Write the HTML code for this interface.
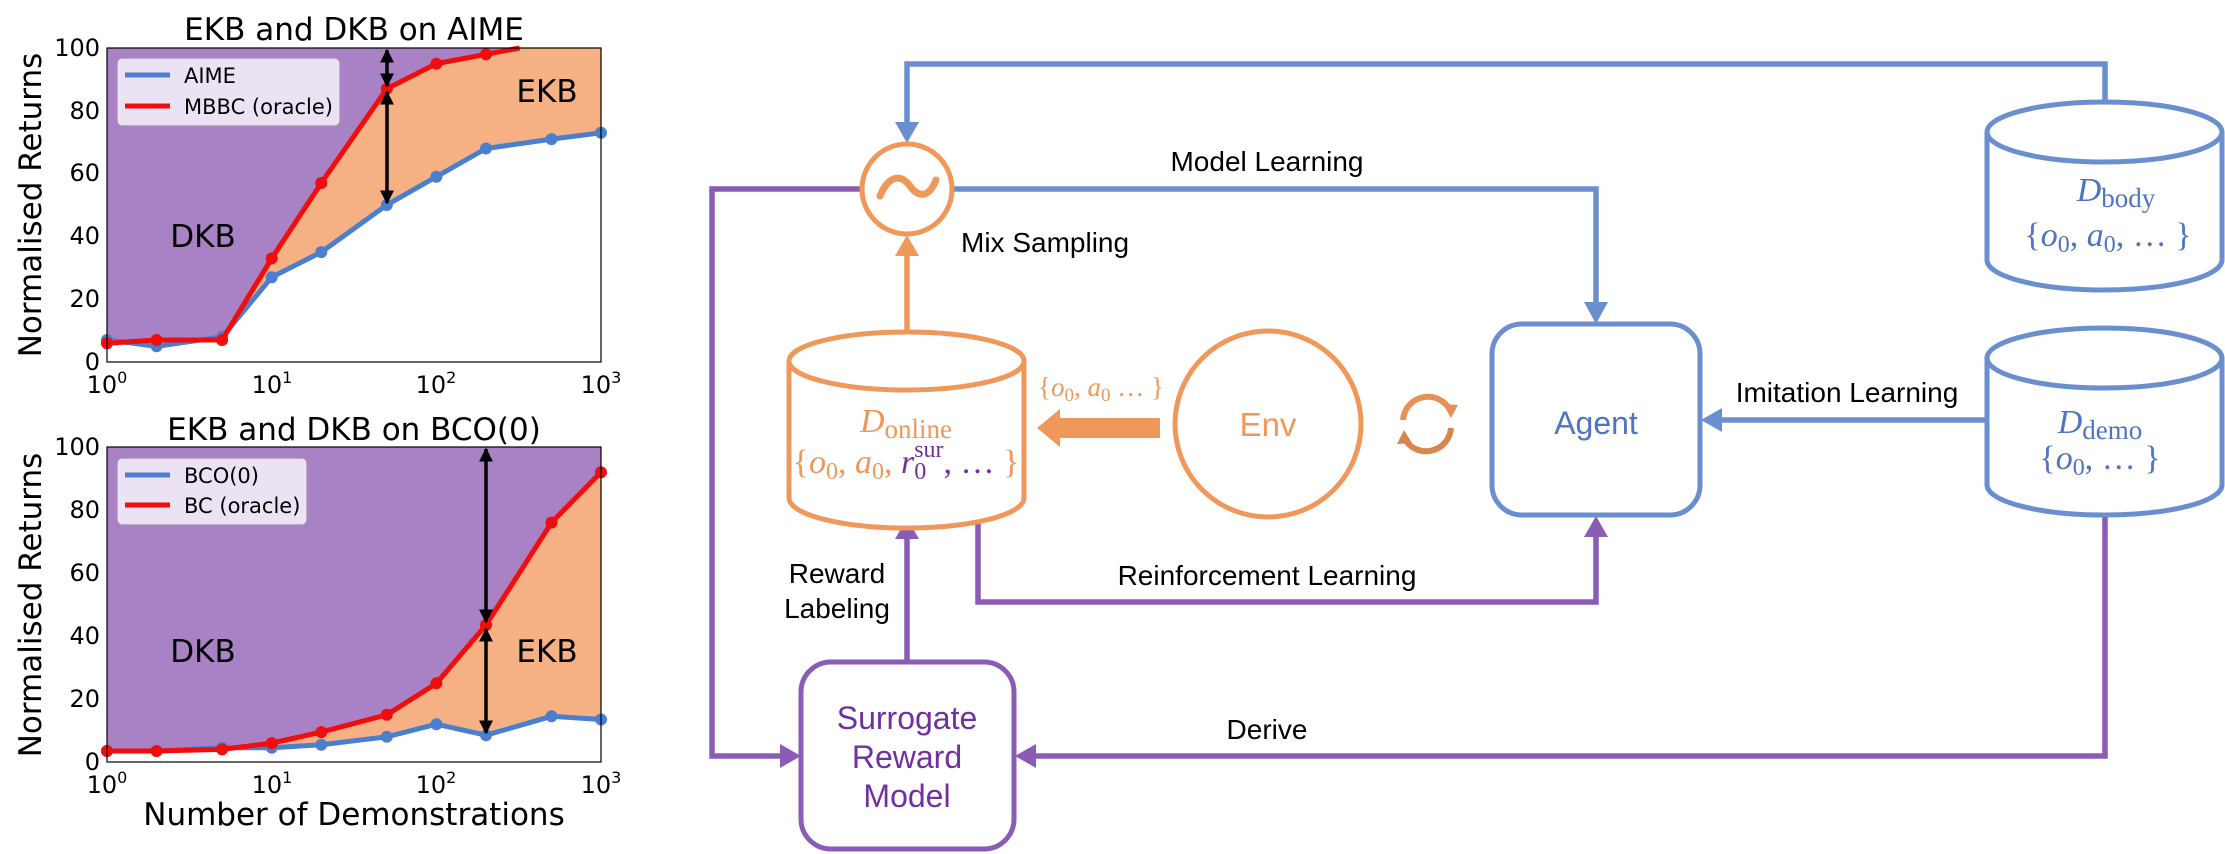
<!DOCTYPE html>
<html><head><meta charset="utf-8"><style>
html,body{margin:0;padding:0;background:#fff;}
svg{display:block;}
.t{font-family:"DejaVu Sans","Liberation Sans",sans-serif;}
.l{font-family:"Liberation Sans",sans-serif;}
.m{font-family:"Liberation Serif","DejaVu Serif",serif;}
</style></head><body>
<svg width="2225" height="854" viewBox="0 0 2225 854" xmlns="http://www.w3.org/2000/svg">
<defs>
<marker id="ah" viewBox="0 0 10 10" refX="9" refY="5" markerWidth="4" markerHeight="4" orient="auto-start-reverse"><path d="M0,0 L10,5 L0,10 z" fill="#000"/></marker>
</defs>
<!-- ===== Top chart ===== -->
<rect x="107" y="48" width="494" height="314" fill="#a882c5"/>
<polygon fill="#f5b183" points="107,343.2 156.6,340 222.1,340 271.7,258.4 321.3,183 386.8,88.8 436.4,63.7 486,54.3 519.6,48 601,48 601,132.8 551.5,139.1 486,148.5 436.4,176.7 386.8,205 321.3,252.1 271.7,277.2 222.1,336.9 156.6,346.3 107,340"/>
<polygon fill="#fff" points="107,340 156.6,346.3 222.1,336.9 271.7,277.2 321.3,252.1 386.8,205 436.4,176.7 486,148.5 551.5,139.1 601,132.8 601,362 107,362"/>
<polyline fill="none" stroke="#4a7fcf" stroke-width="5" points="107,340 156.6,346.3 222.1,336.9 271.7,277.2 321.3,252.1 386.8,205 436.4,176.7 486,148.5 551.5,139.1 601,132.8"/>
<g fill="#4a7fcf"><circle cx="107" cy="340" r="6"/><circle cx="156.6" cy="346.3" r="6"/><circle cx="222.1" cy="336.9" r="6"/><circle cx="271.7" cy="277.2" r="6"/><circle cx="321.3" cy="252.1" r="6"/><circle cx="386.8" cy="205" r="6"/><circle cx="436.4" cy="176.7" r="6"/><circle cx="486" cy="148.5" r="6"/><circle cx="551.5" cy="139.1" r="6"/><circle cx="601" cy="132.8" r="6"/></g>
<polyline fill="none" stroke="#f20d0d" stroke-width="5" points="107,343.2 156.6,340 222.1,340 271.7,258.4 321.3,183 386.8,88.8 436.4,63.7 486,54.3 519.6,48"/>
<g fill="#f20d0d"><circle cx="107" cy="343.2" r="6"/><circle cx="156.6" cy="340" r="6"/><circle cx="222.1" cy="340" r="6"/><circle cx="271.7" cy="258.4" r="6"/><circle cx="321.3" cy="183" r="6"/><circle cx="386.8" cy="88.8" r="6"/><circle cx="436.4" cy="63.7" r="6"/><circle cx="486" cy="54.3" r="6"/></g>
<line x1="387" y1="50" x2="387" y2="86" stroke="#000" stroke-width="3.5" marker-start="url(#ah)" marker-end="url(#ah)"/>
<line x1="387" y1="92" x2="387" y2="203" stroke="#000" stroke-width="3.5" marker-start="url(#ah)" marker-end="url(#ah)"/>
<rect x="107" y="48" width="494" height="314" fill="none" stroke="#000" stroke-width="1.2"/>
<rect x="118" y="59" width="221" height="66" rx="4" fill="#f2edf7" fill-opacity="0.9" stroke="#ddd"/>
<line x1="125" y1="75" x2="170" y2="75" stroke="#4a7fcf" stroke-width="5"/>
<line x1="125" y1="106" x2="170" y2="106" stroke="#f20d0d" stroke-width="5"/>
<text class="t" x="184" y="83" font-size="21">AIME</text>
<text class="t" x="184" y="114" font-size="21">MBBC (oracle)</text>
<text class="t" x="203" y="247" font-size="31" text-anchor="middle">DKB</text>
<text class="t" x="547" y="102" font-size="31" text-anchor="middle">EKB</text>
<text class="t" x="354" y="40" font-size="31" text-anchor="middle">EKB and DKB on AIME</text>
<g class="t" font-size="24" text-anchor="end">
<text x="100" y="370">0</text><text x="100" y="307">20</text><text x="100" y="244">40</text><text x="100" y="181">60</text><text x="100" y="119">80</text><text x="100" y="56">100</text>
</g>
<g class="t" font-size="24" text-anchor="middle">
<text x="107" y="393">10<tspan font-size="16" dy="-10">0</tspan></text><text x="272" y="393">10<tspan font-size="16" dy="-10">1</tspan></text><text x="436" y="393">10<tspan font-size="16" dy="-10">2</tspan></text><text x="601" y="393">10<tspan font-size="16" dy="-10">3</tspan></text>
</g>
<text class="t" font-size="31" text-anchor="middle" transform="translate(41,205) rotate(-90)">Normalised Returns</text>

<!-- ===== Bottom chart ===== -->
<rect x="107" y="447" width="494" height="315" fill="#a882c5"/>
<polygon fill="#f5b183" points="107,751 156.6,751 222.1,749.4 271.7,743.1 321.3,732.1 386.8,714.8 436.4,683.3 486,625 551.5,522.6 601,472.2 601,719.5 551.5,716.3 486,735.2 436.4,724.2 386.8,736.8 321.3,744.7 271.7,747.8 222.1,747.8 156.6,751"/>
<polygon fill="#fff" points="107,751 156.6,751 222.1,747.8 271.7,747.8 321.3,744.7 386.8,736.8 436.4,724.2 486,735.2 551.5,716.3 601,719.5 601,762 107,762"/>
<polyline fill="none" stroke="#4a7fcf" stroke-width="5" points="107,751 156.6,751 222.1,747.8 271.7,747.8 321.3,744.7 386.8,736.8 436.4,724.2 486,735.2 551.5,716.3 601,719.5"/>
<g fill="#4a7fcf"><circle cx="107" cy="751" r="6"/><circle cx="156.6" cy="751" r="6"/><circle cx="222.1" cy="747.8" r="6"/><circle cx="271.7" cy="747.8" r="6"/><circle cx="321.3" cy="744.7" r="6"/><circle cx="386.8" cy="736.8" r="6"/><circle cx="436.4" cy="724.2" r="6"/><circle cx="486" cy="735.2" r="6"/><circle cx="551.5" cy="716.3" r="6"/><circle cx="601" cy="719.5" r="6"/></g>
<polyline fill="none" stroke="#f20d0d" stroke-width="5" points="107,751 156.6,751 222.1,749.4 271.7,743.1 321.3,732.1 386.8,714.8 436.4,683.3 486,625 551.5,522.6 601,472.2"/>
<g fill="#f20d0d"><circle cx="107" cy="751" r="6"/><circle cx="156.6" cy="751" r="6"/><circle cx="222.1" cy="749.4" r="6"/><circle cx="271.7" cy="743.1" r="6"/><circle cx="321.3" cy="732.1" r="6"/><circle cx="386.8" cy="714.8" r="6"/><circle cx="436.4" cy="683.3" r="6"/><circle cx="486" cy="625" r="6"/><circle cx="551.5" cy="522.6" r="6"/><circle cx="601" cy="472.2" r="6"/></g>
<line x1="486" y1="449" x2="486" y2="622" stroke="#000" stroke-width="3.5" marker-start="url(#ah)" marker-end="url(#ah)"/>
<line x1="486" y1="629" x2="486" y2="733" stroke="#000" stroke-width="3.5" marker-start="url(#ah)" marker-end="url(#ah)"/>
<rect x="107" y="447" width="494" height="315" fill="none" stroke="#000" stroke-width="1.2"/>
<rect x="118" y="459" width="188" height="65" rx="4" fill="#f2edf7" fill-opacity="0.9" stroke="#ddd"/>
<line x1="125" y1="475" x2="170" y2="475" stroke="#4a7fcf" stroke-width="5"/>
<line x1="125" y1="505" x2="170" y2="505" stroke="#f20d0d" stroke-width="5"/>
<text class="t" x="184" y="483" font-size="21">BCO(0)</text>
<text class="t" x="184" y="513" font-size="21">BC (oracle)</text>
<text class="t" x="203" y="662" font-size="31" text-anchor="middle">DKB</text>
<text class="t" x="547" y="662" font-size="31" text-anchor="middle">EKB</text>
<text class="t" x="354" y="440" font-size="31" text-anchor="middle">EKB and DKB on BCO(0)</text>
<g class="t" font-size="24" text-anchor="end">
<text x="100" y="770">0</text><text x="100" y="707">20</text><text x="100" y="644">40</text><text x="100" y="581">60</text><text x="100" y="518">80</text><text x="100" y="455">100</text>
</g>
<g class="t" font-size="24" text-anchor="middle">
<text x="107" y="793">10<tspan font-size="16" dy="-10">0</tspan></text><text x="272" y="793">10<tspan font-size="16" dy="-10">1</tspan></text><text x="436" y="793">10<tspan font-size="16" dy="-10">2</tspan></text><text x="601" y="793">10<tspan font-size="16" dy="-10">3</tspan></text>
</g>
<text class="t" font-size="31" text-anchor="middle" transform="translate(41,605) rotate(-90)">Normalised Returns</text>
<text class="t" x="354" y="825" font-size="31" text-anchor="middle">Number of Demonstrations</text>

<!-- ===== Diagram ===== -->
<g fill="none" stroke-width="5.5">
<polyline stroke="#6a8fcf" points="2105,101 2105,64 907,64 907,124"/>
<polygon fill="#6a8fcf" stroke="none" points="895,122 919,122 907,143"/>
<polyline stroke="#6a8fcf" points="952,189 1596,189 1596,305"/>
<polygon fill="#6a8fcf" stroke="none" points="1584,302 1608,302 1596,324"/>
<polyline stroke="#6a8fcf" points="1987,420 1720,420"/>
<polygon fill="#6a8fcf" stroke="none" points="1722,408 1722,432 1701,420"/>
<polyline stroke="#8a5cb5" points="862,189 712,189 712,756 782,756"/>
<polygon fill="#8a5cb5" stroke="none" points="780,744 780,768 801,756"/>
<polyline stroke="#8a5cb5" points="2105,516 2105,756 1034,756"/>
<polygon fill="#8a5cb5" stroke="none" points="1036,744 1036,768 1015,756"/>
<polyline stroke="#8a5cb5" points="978,515 978,602 1596,602 1596,535"/>
<polygon fill="#8a5cb5" stroke="none" points="1584,537 1608,537 1596,516"/>
<polyline stroke="#8a5cb5" points="907,662 907,536"/>
<polygon fill="#8a5cb5" stroke="none" points="895,539 919,539 907,518"/>
<polyline stroke="#f0975a" points="907,331 907,252"/>
<polygon fill="#f0975a" stroke="none" points="895,256 919,256 907,235"/>
</g>
<circle cx="907" cy="189" r="45" fill="#fff" stroke="#f0975a" stroke-width="5"/>
<path d="M880,196 C890,172 903,176 910,186 C917,196 928,200 936,180" fill="none" stroke="#f0975a" stroke-width="7" stroke-linecap="round"/>
<path d="M789,361 L789,498 A117.5,30 0 0 0 1024,498 L1024,361" fill="#fff" stroke="#f0975a" stroke-width="5"/>
<ellipse cx="906.5" cy="361" rx="117.5" ry="29" fill="#fff" stroke="#f0975a" stroke-width="5"/>
<text class="m" x="906" y="432" font-size="34" fill="#f0975a" text-anchor="middle"><tspan font-style="italic">D</tspan><tspan font-size="27" dy="6">online</tspan></text>
<text class="m" x="906" y="473" font-size="34" fill="#f0975a" text-anchor="middle">{<tspan font-style="italic">o</tspan><tspan font-size="24" dy="6">0</tspan><tspan dy="-6">, </tspan><tspan font-style="italic">a</tspan><tspan font-size="24" dy="6">0</tspan><tspan dy="-6">, </tspan><tspan font-style="italic" fill="#7030a0">r</tspan><tspan font-size="24" dy="6" fill="#7030a0">0</tspan><tspan font-size="24" dx="-12" dy="-22" fill="#7030a0">sur</tspan><tspan dy="16" fill="#7030a0">, … </tspan>}</text>
<rect x="1055" y="418" width="105" height="20" fill="#f0975a"/>
<polygon points="1037,428 1060,409 1060,447" fill="#f0975a"/>
<text class="m" x="1101" y="396" font-size="27" fill="#f0975a" text-anchor="middle">{<tspan font-style="italic">o</tspan><tspan font-size="19" dy="5">0</tspan><tspan dy="-5">, </tspan><tspan font-style="italic">a</tspan><tspan font-size="19" dy="5">0</tspan><tspan dy="-5"> … }</tspan></text>
<circle cx="1268" cy="424" r="93" fill="#fff" stroke="#f0975a" stroke-width="5"/>
<text class="l" x="1268" y="436" font-size="33" fill="#f0975a" text-anchor="middle">Env</text>
<path d="M1403,420 A25,25 0 0 1 1450,410" fill="none" stroke="#e59158" stroke-width="6"/>
<polygon points="1443,404 1458,405 1451,418" fill="#e59158"/>
<path d="M1451,428 A25,25 0 0 1 1404,438" fill="none" stroke="#d5874f" stroke-width="6"/>
<polygon points="1397,444 1404,430 1412,443" fill="#d5874f"/>
<rect x="1492" y="324" width="208" height="191" rx="30" fill="#fff" stroke="#6a8fcf" stroke-width="5"/>
<text class="l" x="1596" y="434" font-size="32" fill="#4f74c2" text-anchor="middle">Agent</text>
<path d="M1987,132 L1987,260 A117.5,30 0 0 0 2222,260 L2222,132" fill="#fff" stroke="#6a8fcf" stroke-width="5"/>
<ellipse cx="2104.5" cy="132" rx="117.5" ry="30" fill="#fff" stroke="#6a8fcf" stroke-width="5"/>
<text class="m" x="2116" y="201" font-size="34" fill="#4f74c2" text-anchor="middle"><tspan font-style="italic">D</tspan><tspan font-size="27" dy="6">body</tspan></text>
<text class="m" x="2108" y="246" font-size="34" fill="#4f74c2" text-anchor="middle">{<tspan font-style="italic">o</tspan><tspan font-size="24" dy="6">0</tspan><tspan dy="-6">, </tspan><tspan font-style="italic">a</tspan><tspan font-size="24" dy="6">0</tspan><tspan dy="-6">, … }</tspan></text>
<path d="M1987,358 L1987,485 A117.5,30 0 0 0 2222,485 L2222,358" fill="#fff" stroke="#6a8fcf" stroke-width="5"/>
<ellipse cx="2104.5" cy="358" rx="117.5" ry="30" fill="#fff" stroke="#6a8fcf" stroke-width="5"/>
<text class="m" x="2100" y="433" font-size="34" fill="#4f74c2" text-anchor="middle"><tspan font-style="italic">D</tspan><tspan font-size="27" dy="6">demo</tspan></text>
<text class="m" x="2100" y="469" font-size="34" fill="#4f74c2" text-anchor="middle">{<tspan font-style="italic">o</tspan><tspan font-size="24" dy="6">0</tspan><tspan dy="-6">, … }</tspan></text>
<rect x="801" y="662" width="213" height="187" rx="30" fill="#fff" stroke="#8a5cb5" stroke-width="5"/>
<g class="l" font-size="32" fill="#7030a0" text-anchor="middle">
<text x="907" y="729">Surrogate</text><text x="907" y="768">Reward</text><text x="907" y="807">Model</text>
</g>
<g class="l" font-size="28" fill="#000">
<text x="1267" y="171" text-anchor="middle">Model Learning</text>
<text x="961" y="252">Mix Sampling</text>
<text x="1267" y="585" text-anchor="middle">Reinforcement Learning</text>
<text x="837" y="583" text-anchor="middle">Reward</text>
<text x="837" y="618" text-anchor="middle">Labeling</text>
<text x="1267" y="739" text-anchor="middle">Derive</text>
<text x="1847" y="402" text-anchor="middle">Imitation Learning</text>
</g>
</svg>
</body></html>
